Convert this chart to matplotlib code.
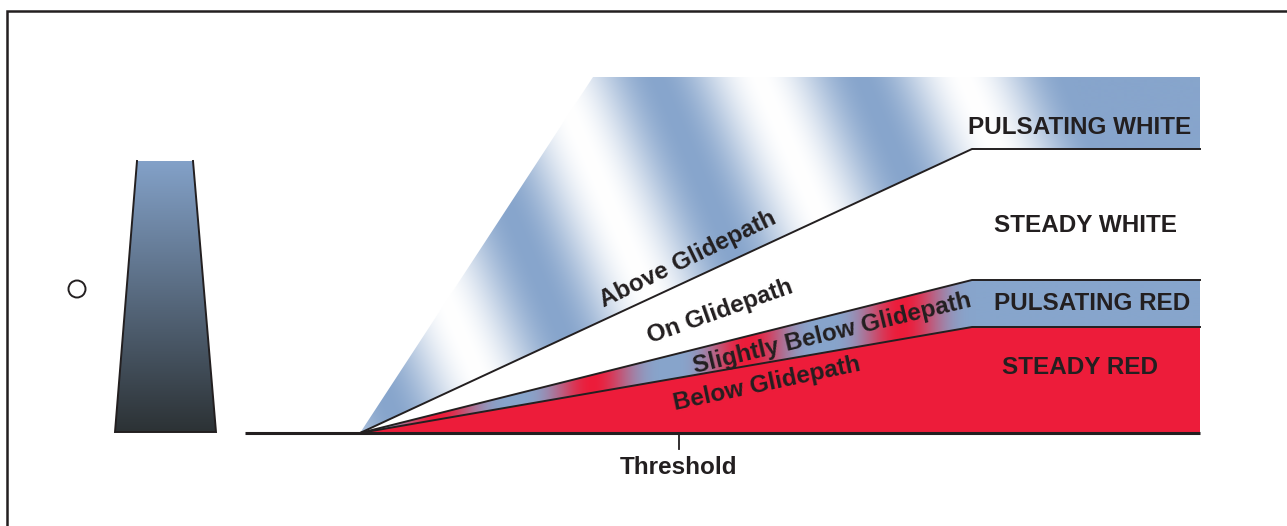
"""
Glidepath indicator diagram (tri-colour approach slope light).
Drawn in pixel space: x right, y down.
"""

import numpy as np
import matplotlib
matplotlib.use("Agg")
import matplotlib.pyplot as plt
from matplotlib.patches import Polygon, Circle

plt.rcParams["font.family"] = ["Liberation Sans", "DejaVu Sans"]

# ─── Geometry (pixels) ───────────────────────────────────────────────────────
W, H        = 1287, 526
VERTEX      = (360, 433)            # threshold light source on the ground line
BREAK_X     = 972                   # where the beam edges turn horizontal
RIGHT_X     = 1200
TOP_Y       = 77                    # top of the "above glidepath" beam
TOP_LEFT_X  = 593                   # upper-left corner of that beam
EDGE_Y      = [149, 280, 327]       # beam edges at BREAK_X: above/on, on/slightly, slightly/below
GROUND_X    = [245, 1200]
THRESHOLD_X = 679

LIGHT_TOP_X    = [137, 193]         # light housing (trapezoid)
LIGHT_BOTTOM_X = [115, 216]
LIGHT_Y        = [161, 432]
LAMP_XY        = (77, 289)

# beam labels: text, centre, angle
BEAM_LABELS = ["Above Glidepath", "On Glidepath", "Slightly Below Glidepath", "Below Glidepath"]
BEAM_POS    = [(688, 259), (720, 312), (832, 333), (767, 384)]
BEAM_ROT    = [26, 19.5, 13.5, 12]

ZONE_LABELS = ["PULSATING WHITE", "STEADY WHITE", "PULSATING RED", "STEADY RED"]
ZONE_POS    = [(1080, 127), (1085, 226), (1092, 303), (1080, 368)]

# ─── Colours ─────────────────────────────────────────────────────────────────
BLUE  = np.array([135, 165, 204]) / 255
RED   = np.array([237, 28, 58]) / 255
WHITE = np.ones(3)
INK   = "#231f20"
LIGHT_TOP    = np.array([131, 161, 200]) / 255
LIGHT_BOTTOM = np.array([44, 50, 53]) / 255

FS = 17.5

fig = plt.figure(figsize=(W / 100, H / 100), dpi=100)
ax = fig.add_axes([0, 0, 1, 1])
ax.set_xlim(0, W)
ax.set_ylim(H, 0)
ax.axis("off")

# frame (continues past the right and bottom edges)
ax.plot([7, 7, W + 5], [H + 5, 11, 11], color=INK, lw=1.8, solid_joinstyle="miter")

vx, vy = VERTEX

# ─── Above glidepath: blue/white diagonal stripes ────────────────────────────
above_poly = Polygon([VERTEX, (TOP_LEFT_X, TOP_Y), (RIGHT_X, TOP_Y),
                      (RIGHT_X, EDGE_Y[0]), (BREAK_X, EDGE_Y[0])],
                     closed=True, transform=ax.transData, facecolor="none", edgecolor="none")
ax.add_patch(above_poly)
xs = np.arange(vx, RIGHT_X + 1, 1.0)
ys = np.arange(TOP_Y, vy + 1, 1.0)
X, Y = np.meshgrid(xs, ys)
t = X - 0.43 * (Y - TOP_Y)
f = 0.5 + 0.5 * np.cos(2 * np.pi * (t - 657) / 205)
f[t > 1070] = 1.0
img = WHITE * (1 - f[..., None]) + BLUE * f[..., None]
im = ax.imshow(img, extent=(vx, RIGHT_X, vy, TOP_Y), origin="upper",
               interpolation="bilinear", zorder=1)
im.set_clip_path(above_poly)

# ─── Slightly below: red/blue vertical stripes ───────────────────────────────
band_poly = Polygon([VERTEX, (BREAK_X, EDGE_Y[1]), (RIGHT_X, EDGE_Y[1]),
                     (RIGHT_X, EDGE_Y[2]), (BREAK_X, EDGE_Y[2])],
                    closed=True, transform=ax.transData, facecolor="none", edgecolor="none")
ax.add_patch(band_poly)
xs = np.arange(vx, RIGHT_X + 1, 1.0)
ys = np.arange(EDGE_Y[1], vy + 1, 1.0)
X, Y = np.meshgrid(xs, ys)
g = (0.5 + 0.5 * np.cos(2 * np.pi * (X - 437) / 155)) ** 1.6
g[X > 975] = 0.0
img = BLUE * (1 - g[..., None]) + RED * g[..., None]
im = ax.imshow(img, extent=(vx, RIGHT_X, vy, EDGE_Y[1]), origin="upper",
               interpolation="bilinear", zorder=1)
im.set_clip_path(band_poly)

# ─── Below glidepath: steady red ─────────────────────────────────────────────
ax.add_patch(Polygon([VERTEX, (BREAK_X, EDGE_Y[2]), (RIGHT_X, EDGE_Y[2]), (RIGHT_X, vy)],
                     closed=True, facecolor=RED, edgecolor="none", zorder=1))

# beam edges
for ey in EDGE_Y:
    ax.plot([vx, BREAK_X, RIGHT_X], [vy, ey, ey], color=INK, lw=1.4,
            solid_joinstyle="round", zorder=3)

# ground line and threshold tick
ax.plot(GROUND_X, [vy, vy], color=INK, lw=2.2, zorder=4, solid_capstyle="butt")
ax.plot([THRESHOLD_X, THRESHOLD_X], [vy, 449], color=INK, lw=1.3, zorder=4)
ax.text(THRESHOLD_X - 1, 467, "Threshold", ha="center", va="center",
        fontsize=FS, fontweight="bold", color=INK)

# ─── Light housing with vertical gradient ────────────────────────────────────
light_poly = Polygon([(LIGHT_TOP_X[0], LIGHT_Y[0]), (LIGHT_TOP_X[1], LIGHT_Y[0]),
                      (LIGHT_BOTTOM_X[1], LIGHT_Y[1]), (LIGHT_BOTTOM_X[0], LIGHT_Y[1])],
                     closed=True, transform=ax.transData, facecolor="none", edgecolor="none")
ax.add_patch(light_poly)
s = np.linspace(0, 1, 200)[:, None, None]
grad = LIGHT_TOP * (1 - s) + LIGHT_BOTTOM * s
grad = np.repeat(grad, 2, axis=1)
im = ax.imshow(grad, extent=(LIGHT_BOTTOM_X[0], LIGHT_BOTTOM_X[1], LIGHT_Y[1], LIGHT_Y[0]),
               origin="upper", interpolation="bilinear", aspect="auto", zorder=1)
im.set_clip_path(light_poly)
ax.plot([LIGHT_TOP_X[0], LIGHT_BOTTOM_X[0], LIGHT_BOTTOM_X[1], LIGHT_TOP_X[1]],
        [LIGHT_Y[0], LIGHT_Y[1], LIGHT_Y[1], LIGHT_Y[0]],
        color=INK, lw=1.4, solid_joinstyle="miter", zorder=3)
ax.add_patch(Circle(LAMP_XY, 8.5, fill=False, edgecolor=INK, lw=1.4, zorder=3))

# ─── Labels ──────────────────────────────────────────────────────────────────
for txt, (x, y), rot in zip(BEAM_LABELS, BEAM_POS, BEAM_ROT):
    ax.text(x, y, txt, rotation=rot, rotation_mode="anchor", ha="center", va="center",
            fontsize=FS, fontweight="bold", color=INK, zorder=5)
for txt, (x, y) in zip(ZONE_LABELS, ZONE_POS):
    ax.text(x, y, txt, ha="center", va="center",
            fontsize=FS, fontweight="bold", color=INK, zorder=5)

ax.set_aspect("auto")
fig.savefig("out.png", dpi=100)
